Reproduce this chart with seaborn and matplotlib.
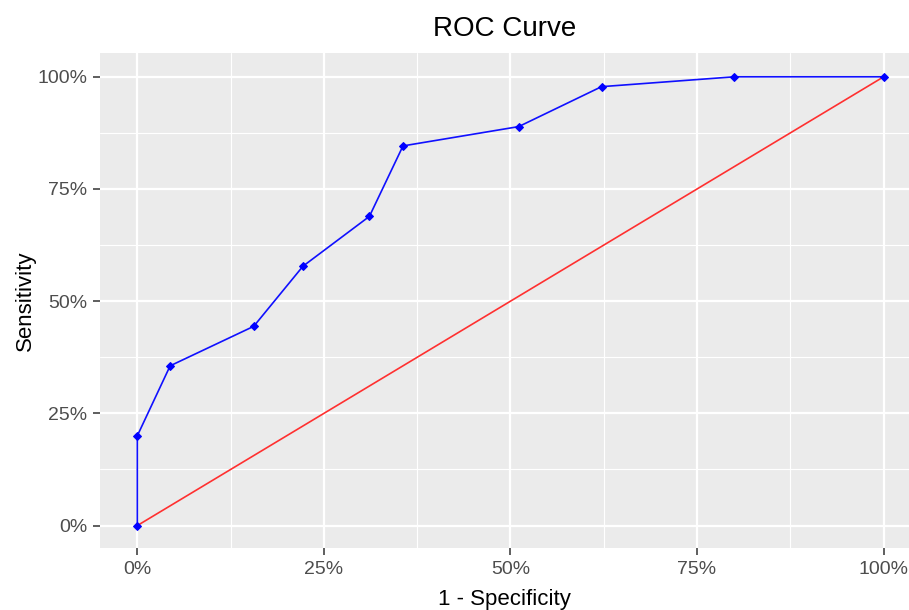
import matplotlib
matplotlib.use("Agg")
import numpy as np
import pandas as pd
import seaborn as sns
from matplotlib import pyplot as plt
from matplotlib.ticker import FixedLocator, PercentFormatter

# ROC points
fpr = [0.0, 0.0, 0.044, 0.156, 0.222, 0.311, 0.356, 0.511, 0.622, 0.8, 1.0]
tpr = [0.0, 0.20, 0.356, 0.444, 0.578, 0.689, 0.846, 0.889, 0.978, 1.0, 1.0]
diag = [0.0, 1.0]
ticks = [0.0, 0.25, 0.5, 0.75, 1.0]
minor_ticks = [0.125, 0.375, 0.625, 0.875]

roc = pd.DataFrame({"fpr": fpr, "tpr": tpr})
ref = pd.DataFrame({"x": diag, "y": diag})

sns.set_theme(style="darkgrid", rc={
    "axes.facecolor": "#EBEBEB",
    "grid.color": "white",
})
plt.rcParams["font.family"] = ["Liberation Sans", "DejaVu Sans"]

fig = plt.figure(figsize=(9.09, 6.10), dpi=100)
ax = fig.add_axes([0.110, 0.1016, 0.890, 0.8115])

sns.lineplot(data=ref, x="x", y="y", color="#FF3030", lw=1.2, ax=ax)
sns.lineplot(data=roc, x="fpr", y="tpr", sort=False, estimator=None,
             color="#1010FF", lw=1.2, marker="D", markersize=4.2,
             markeredgecolor="#0000FF", markerfacecolor="#0000FF", ax=ax)

ax.set_xlim(-0.05, 1.034)
ax.set_ylim(-0.05, 1.053)
ax.xaxis.set_major_locator(FixedLocator(ticks))
ax.yaxis.set_major_locator(FixedLocator(ticks))
ax.xaxis.set_minor_locator(FixedLocator(minor_ticks))
ax.yaxis.set_minor_locator(FixedLocator(minor_ticks))
ax.xaxis.set_major_formatter(PercentFormatter(1.0, decimals=0))
ax.yaxis.set_major_formatter(PercentFormatter(1.0, decimals=0))
ax.grid(which="major", color="white", lw=1.6)
ax.grid(which="minor", color="white", lw=0.8)
ax.tick_params(which="major", bottom=True, left=True, length=5, width=1.1,
               color="#333333", labelcolor="#4D4D4D", labelsize=14, pad=4)
ax.tick_params(which="minor", length=0)
for s in ax.spines.values():
    s.set_visible(False)

ax.set_title("ROC Curve", fontsize=20, pad=12, color="black")
ax.set_xlabel("1 - Specificity", fontsize=16, labelpad=8, color="black")
ax.set_ylabel("Sensitivity", fontsize=16, labelpad=1, color="black")

fig.savefig("out.png", dpi=100)
